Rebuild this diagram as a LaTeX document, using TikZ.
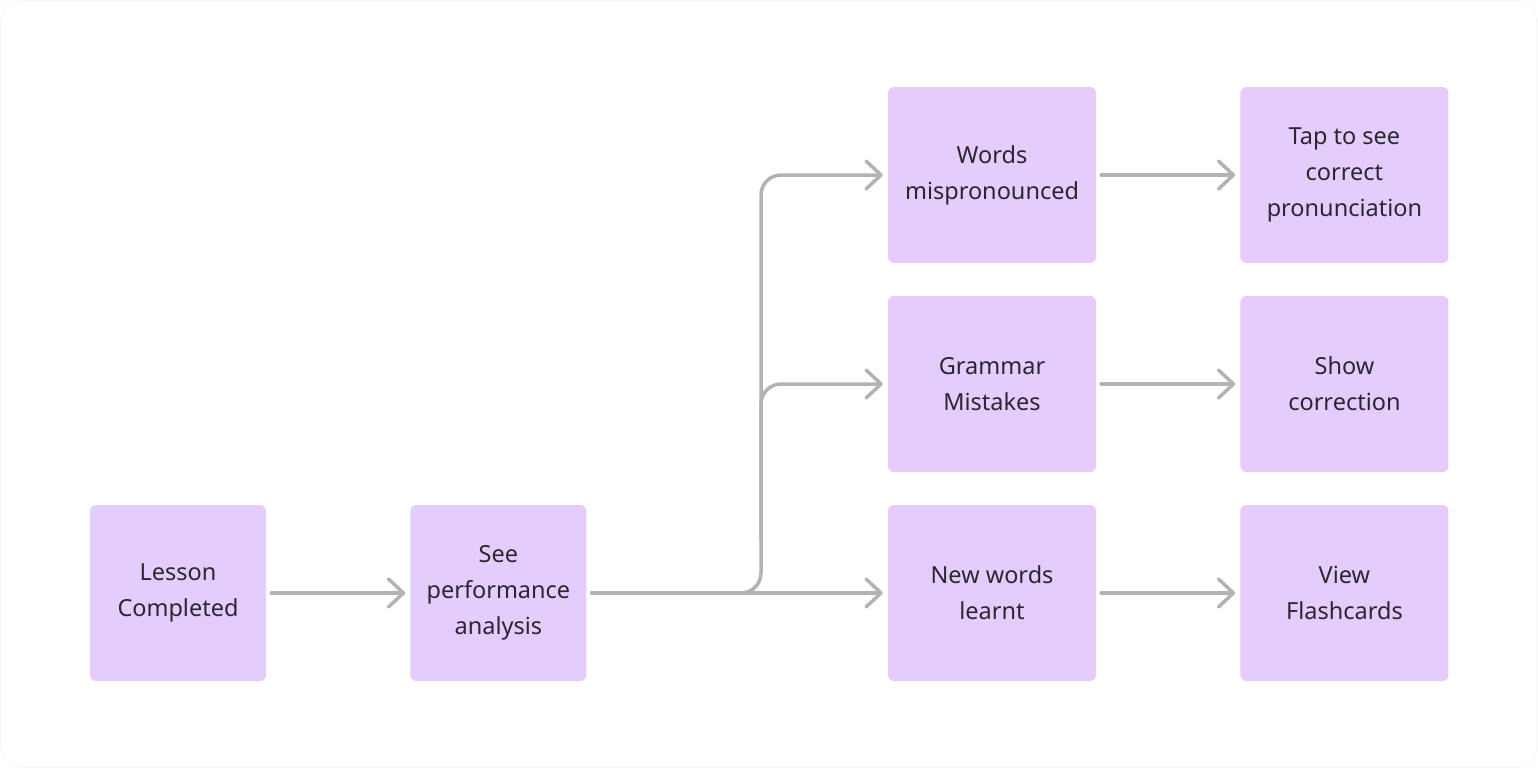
\documentclass[tikz,border=0pt]{standalone}
\usepackage{fontspec}
\setmainfont{Noto Sans}
\usetikzlibrary{arrows.meta,positioning}

\definecolor{boxfill}{HTML}{E4CCFD}
\definecolor{boxtext}{HTML}{2A2730}
\definecolor{linegray}{HTML}{B3B3B3}

\begin{document}
\begin{tikzpicture}[
  x=1pt,
  y=-1pt,
  stepbox/.style={
    fill=boxfill,
    rounded corners=6pt,
    minimum width=176pt,
    minimum height=176pt,
    align=center,
    text=boxtext,
    font=\fontsize{23.5}{36}\selectfont,
    inner sep=0pt
  },
  widebox/.style={
    stepbox,
    minimum width=208pt
  },
  flow/.style={
    draw=linegray,
    line width=3.5pt,
    line cap=round,
    -{Straight Barb[length=15pt,width=28pt,round]}
  },
]
\useasboundingbox (0,0) rectangle (1538,768);
\draw[draw=black!4, fill=white, rounded corners=22pt, line width=0.8pt] (0.5,0.5) rectangle (1537.5,767.5);

% start and analysis
\node[stepbox] (lesson) at (178,593) {Lesson\\Completed};
\node[stepbox, right=144pt of lesson] (perf) {See\\performance\\analysis};

% results column
\node[widebox] (newwords) at (992,593) {New words\\learnt};
\node[widebox] (grammar) at (992,384) {Grammar\\Mistakes};
\node[widebox] (words) at (992,175) {Words\\mispronounced};

% actions column
\node[widebox, right=144pt of newwords] (flashcards) {View\\Flashcards};
\node[widebox, right=144pt of grammar] (correction) {Show\\correction};
\node[widebox, right=144pt of words] (tap) {Tap to see\\correct\\pronunciation};

\coordinate (split) at (761,593);
\coordinate (branch) at (761,540);

\draw[flow, shorten <=5pt, shorten >=5pt] (lesson) -- (perf);
\draw[flow, shorten <=5pt, shorten >=5pt] (perf) -- (newwords);
\draw[flow, shorten <=5pt, shorten >=5pt, rounded corners=20pt] (perf.east) -- (split) |- (words.west);
\draw[flow, shorten >=5pt, rounded corners=20pt] (branch) |- (grammar.west);

\draw[flow, shorten <=5pt, shorten >=5pt] (words) -- (tap);
\draw[flow, shorten <=5pt, shorten >=5pt] (grammar) -- (correction);
\draw[flow, shorten <=5pt, shorten >=5pt] (newwords) -- (flashcards);
\end{tikzpicture}
\end{document}
